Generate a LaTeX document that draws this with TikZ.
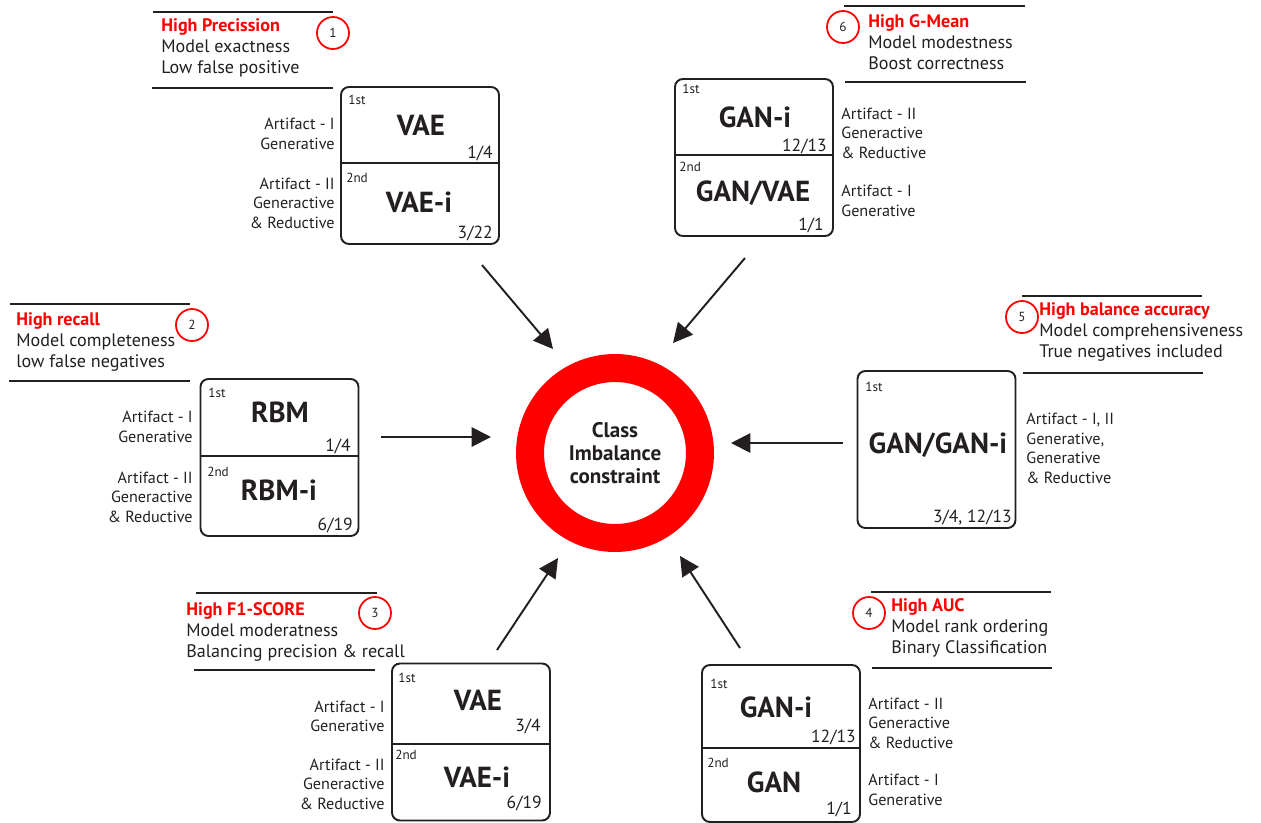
\documentclass[tikz,border=0pt]{standalone}
\usepackage{fontspec}
\setmainfont{PT Sans}
\usetikzlibrary{arrows.meta}
\definecolor{ink}{HTML}{231F20}

\begin{document}
\begin{tikzpicture}[x=0.02cm, y=-0.02cm, >={Triangle[length=11pt,width=11pt]},
	every node/.style={inner sep=0pt, text=ink},
	box/.style={draw=ink, line width=1.1pt, rounded corners=4.5pt, minimum width=3.16cm, minimum height=3.14cm},
	rule/.style={draw=ink, line width=1.1pt},
	arr/.style={->, ink, line width=1.1pt},
	num/.style={draw=red, circle, line width=1pt, minimum size=0.64cm, font=\fontsize{7.5}{9}\selectfont},
	head/.style={anchor=west, align=left, font=\fontsize{10.3}{12}\selectfont},
	model/.style={font=\fontsize{16.5}{18}\selectfont\bfseries},
	ord/.style={anchor=west, font=\fontsize{7.5}{9}\selectfont},
	frac/.style={anchor=east, font=\fontsize{10}{12}\selectfont},
	side/.style={font=\fontsize{9.2}{11.1}\selectfont}]
	\useasboundingbox (0,0) rectangle (1261,822);

	% centre
	\node[circle, draw=red, line width=0.56cm, minimum size=3.4cm, align=center, font=\fontsize{12}{13.3}\selectfont\bfseries] (ring) at (615,453) {Class\\Imbalance\\constraint};

	% 1 - precision
	\draw[rule] (153,12) -- (333,12);
	\draw[rule] (152,88) -- (333,88);
	\node[head] (h1) at (161,48) {\textcolor{red}{\bfseries High Precission}\\Model exactness\\Low false positive};
	\node[num] (n1) at (333,33) {1};
	\node[box] (b1) at (420,165.5) {};
	\draw[rule] (b1.west |- 0,163) -- (b1.east |- 0,163);
	\node[ord] (b1o) at (348,100) {1st};
	\node[model] (b1m) at (421,125) {VAE};
	\node[frac] (b1f) at (493,153) {1/4};
	\node[ord] (b1p) at (346,178) {2nd};
	\node[model] (b1n) at (419,202) {VAE-i};
	\node[frac] (b1g) at (493,233) {3/22};
	\node[side, anchor=east, align=right] (s1a) at (335,134) {Artifact - I\\Generative};
	\node[side, anchor=east, align=right] (s1b) at (335,203) {Artifact - II\\Generactive\\\& Reductive};

	% 2 - recall
	\draw[rule] (10,304) -- (190,304);
	\draw[rule] (9,381) -- (190,381);
	\node[head] (h2) at (16,342) {\textcolor{red}{\bfseries High recall}\\Model completeness\\low false negatives};
	\node[num] (n2) at (192,325) {2};
	\node[box] (b2) at (279.5,457.5) {};
	\draw[rule] (b2.west |- 0,456) -- (b2.east |- 0,456);
	\node[ord] (b2o) at (208,393) {1st};
	\node[model] (b2m) at (280,412) {RBM};
	\node[frac] (b2f) at (351,446) {1/4};
	\node[ord] (b2p) at (207,472) {2nd};
	\node[model] (b2n) at (279,490) {RBM-i};
	\node[frac] (b2g) at (353,525) {6/19};
	\node[side, anchor=east, align=right] (s2a) at (193,427) {Artifact - I\\Generative};
	\node[side, anchor=east, align=right] (s2b) at (193,497) {Artifact - II\\Generactive\\\& Reductive};

	% 3 - f1 score
	\draw[rule] (196,593) -- (377,593);
	\draw[rule] (194,670) -- (375,670);
	\node[head] (h3) at (186,632) {\textcolor{red}{\bfseries High F1-SCORE}\\Model moderatness\\Balancing precision \& recall};
	\node[num] (n3) at (375,613) {3};
	\node[box] (b3) at (471,742) {};
	\draw[rule] (b3.west |- 0,744) -- (b3.east |- 0,744);
	\node[ord] (b3o) at (398,678) {1st};
	\node[model] (b3m) at (478,700) {VAE};
	\node[frac] (b3f) at (541,726) {3/4};
	\node[ord] (b3p) at (395,755) {2nd};
	\node[model] (b3n) at (477,777) {VAE-i};
	\node[frac] (b3g) at (542,803) {6/19};
	\node[side, anchor=east, align=right] (s3a) at (385,716.5) {Artifact - I\\Generative};
	\node[side, anchor=east, align=right] (s3b) at (385,784) {Artifact - II\\Generactive\\\& Reductive};

	% 4 - auc
	\draw[rule] (871,592) -- (1051,592);
	\draw[rule] (872,668) -- (1052,668);
	\node[head] (h4) at (891,628) {\textcolor{red}{\bfseries High AUC}\\Model rank ordering\\Binary Classification};
	\node[num] (n4) at (869,613) {4};
	\node[box] (b4) at (781,743.5) {};
	\draw[rule] (b4.west |- 0,748) -- (b4.east |- 0,748);
	\node[ord] (b4o) at (710,684) {1st};
	\node[model] (b4m) at (776,707) {GAN-i};
	\node[frac] (b4f) at (856,737) {12/13};
	\node[ord] (b4p) at (707,763) {2nd};
	\node[model] (b4n) at (774,782) {GAN};
	\node[frac] (b4g) at (852,809) {1/1};
	\node[side, anchor=west, align=left] (s4a) at (868,723) {Artifact - II\\Generactive\\\& Reductive};
	\node[side, anchor=west, align=left] (s4b) at (868,790) {Artifact - I\\Generative};

	% 5 - balance accuracy
	\draw[rule] (1022,296) -- (1202,296);
	\draw[rule] (1023,373) -- (1203,373);
	\node[head] (h5) at (1039,332) {\textcolor{red}{\bfseries High balance accuracy}\\Model comprehensiveness\\True negatives included};
	\node[num] (n5) at (1022,317) {5};
	\node[box] (b5) at (936.5,449.5) {};
	\node[ord] (b5o) at (865,387) {1st};
	\node[model] (b5m) at (938,445) {GAN/GAN-i};
	\node[frac] (b5f) at (1012,518) {3/4, 12/13};
	\node[side, anchor=west, align=left] (s5a) at (1026,448.5) {Artifact - I, II\\Generative,\\Generative\\\& Reductive};

	% 6 - g-mean
	\draw[rule] (844,6) -- (1025,6);
	\draw[rule] (845,82) -- (1026,82);
	\node[head] (h6) at (868,42) {\textcolor{red}{\bfseries High G-Mean}\\Model modestness\\Boost correctness};
	\node[num] (n6) at (843,27) {6};
	\node[box] (b6) at (754,157.5) {};
	\draw[rule] (b6.west |- 0,155) -- (b6.east |- 0,155);
	\node[ord] (b6o) at (682,89) {1st};
	\node[model] (b6m) at (755,117) {GAN-i};
	\node[frac] (b6f) at (827,146) {12/13};
	\node[ord] (b6p) at (679,167) {2nd};
	\node[model] (b6n) at (753,193) {GAN/VAE};
	\node[frac] (b6g) at (824,225) {1/1};
	\node[side, anchor=west, align=left] (s6a) at (841,133) {Artifact - II\\Generactive\\\& Reductive};
	\node[side, anchor=west, align=left] (s6b) at (841,201) {Artifact - I\\Generative};

	% arrows
	\coordinate (p1) at (482,265);
	\coordinate (q1) at (553,349);
	\coordinate (p2) at (381,437);
	\coordinate (q2) at (491,437);
	\coordinate (p3) at (497,650);
	\coordinate (q3) at (558,558);
	\coordinate (p4) at (740,648);
	\coordinate (q4) at (680,556);
	\coordinate (p5) at (843,443);
	\coordinate (q5) at (731,443);
	\coordinate (p6) at (745,258);
	\coordinate (q6) at (673,343);
	\draw[arr] (p1) -- (q1);
	\draw[arr] (p2) -- (q2);
	\draw[arr] (p3) -- (q3);
	\draw[arr] (p4) -- (q4);
	\draw[arr] (p5) -- (q5);
	\draw[arr] (p6) -- (q6);
\end{tikzpicture}
\end{document}
